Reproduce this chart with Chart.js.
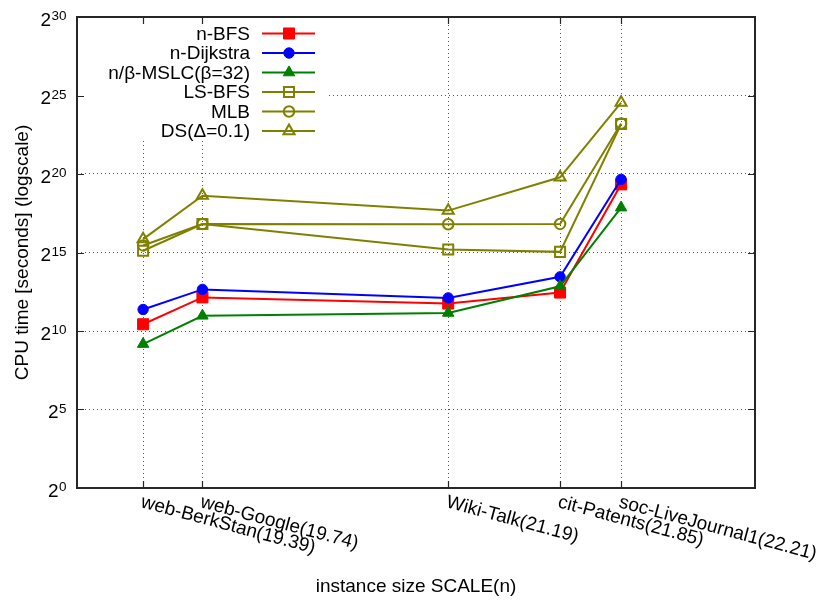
<!DOCTYPE html>
<html>
<head>
<meta charset="utf-8">
<script src="https://cdn.jsdelivr.net/npm/chart.js@4.4.0/dist/chart.umd.min.js"></script>
<style>
html,body{margin:0;padding:0;background:#fff;}
canvas{display:block;}
</style>
</head>
<body>
<canvas id="c" width="822" height="601"></canvas>
<script>
// ---- data ----
const instanceNames = ["web-BerkStan", "web-Google", "Wiki-Talk", "cit-Patents", "soc-LiveJournal1"];
const instanceScale = [19.39, 19.74, 21.19, 21.85, 22.21];
const seriesNames = ["n-BFS", "n-Dijkstra", "n/\u03B2-MSLC(\u03B2=32)", "LS-BFS", "MLB", "DS(\u0394=0.1)"];
// CPU time in seconds
const nBFS      = [1379, 4514, 3444, 5595, 663700];
const nDijkstra = [2646, 6428, 4420, 11190, 828400];
const mslc      = [576, 2006, 2273, 7384, 237900];
const lsBFS     = [35360, 114900, 37390, 33690, 9504000];
const mlb       = [44760, 114900, 114100, 115700, 9773000];
const ds        = [59050, 402900, 208500, 906500, 24560000];
const yTickExponents = [0, 5, 10, 15, 20, 25, 30];
const xTitle = "instance size SCALE(n)";
const yTitle = "CPU time [seconds] (logscale)";

const seriesValues = [nBFS, nDijkstra, mslc, lsBFS, mlb, ds];
const seriesColors = ["#ff0000", "#0000ff", "#008000", "#808000", "#808000", "#808000"];
const seriesStyles = ["rect", "circle", "triangle", "rect", "circle", "triangle"];
const seriesFilled = [true, true, true, false, false, false];
const radii = {rect: [7.8, 7.1], circle: [5.2, 5.2], triangle: [6.6, 6.4]};

const FONT = '"Liberation Sans", Arial, sans-serif';

const datasets = seriesValues.map((vals, i) => {
  const filled = seriesFilled[i];
  const st = seriesStyles[i];
  return {
    label: seriesNames[i],
    data: vals.map((v, j) => ({x: instanceScale[j], y: v})),
    borderColor: seriesColors[i],
    backgroundColor: seriesColors[i],
    borderWidth: 2,
    pointStyle: st,
    pointRadius: filled ? radii[st][0] : radii[st][1],
    pointHoverRadius: filled ? radii[st][0] : radii[st][1],
    pointBackgroundColor: filled ? seriesColors[i] : "rgba(0,0,0,0)",
    pointBorderColor: seriesColors[i],
    pointBorderWidth: filled ? 1 : 2,
    tension: 0,
    fill: false,
    order: 6 - i
  };
});

function drawMarker(ctx, style, x, y, r, color, filled) {
  ctx.save();
  ctx.beginPath();
  if (style === "rect") {
    const s = r * Math.SQRT1_2;
    ctx.rect(x - s, y - s, 2 * s, 2 * s);
  } else if (style === "circle") {
    ctx.arc(x, y, r, 0, Math.PI * 2);
  } else {
    let a = 0;
    ctx.moveTo(x + Math.sin(a) * r, y - Math.cos(a) * r);
    a += Math.PI * 2 / 3;
    ctx.lineTo(x + Math.sin(a) * r, y - Math.cos(a) * r);
    a += Math.PI * 2 / 3;
    ctx.lineTo(x + Math.sin(a) * r, y - Math.cos(a) * r);
    ctx.closePath();
  }
  ctx.strokeStyle = color;
  if (filled) {
    ctx.fillStyle = color;
    ctx.fill();
    ctx.lineWidth = 1;
  } else {
    ctx.lineWidth = 2;
  }
  ctx.stroke();
  ctx.restore();
}

const decor = {
  id: "decor",
  beforeDatasetsDraw(chart) {
    const ctx = chart.ctx;
    const a = chart.chartArea;
    // opaque key box
    ctx.save();
    ctx.fillStyle = "#ffffff";
    ctx.fillRect(a.left + 1, a.top + 1, 327 - a.left, 138 - a.top);
    ctx.restore();
  },
  afterDatasetsDraw(chart) {
    const ctx = chart.ctx;
    const a = chart.chartArea;
    const xs = chart.scales.x, ys = chart.scales.y;
    ctx.save();
    // frame
    ctx.strokeStyle = "#262626";
    ctx.lineWidth = 2;
    ctx.strokeRect(a.left, a.top, a.right - a.left, a.bottom - a.top);
    // ticks
    ctx.lineWidth = 1.2;
    const tl = 7;
    ctx.beginPath();
    yTickExponents.forEach(e => {
      const y = Math.round(ys.getPixelForValue(Math.pow(2, e))) + 0.5;
      ctx.moveTo(a.left, y); ctx.lineTo(a.left + tl, y);
      ctx.moveTo(a.right, y); ctx.lineTo(a.right - tl, y);
    });
    instanceScale.forEach(v => {
      const x = Math.round(xs.getPixelForValue(v)) + 0.5;
      ctx.moveTo(x, a.bottom); ctx.lineTo(x, a.bottom - tl);
      ctx.moveTo(x, a.top); ctx.lineTo(x, a.top + tl);
    });
    ctx.stroke();

    // y tick labels 2^e
    ctx.fillStyle = "#000";
    const R = 66.5;
    yTickExponents.forEach(e => {
      const y = ys.getPixelForValue(Math.pow(2, e));
      ctx.font = "13.5px " + FONT;
      const sup = String(e);
      const ws = ctx.measureText(sup).width;
      ctx.textAlign = "left";
      ctx.textBaseline = "alphabetic";
      ctx.fillText(sup, R - ws, y + 3);
      ctx.font = "19px " + FONT;
      ctx.textAlign = "right";
      ctx.fillText("2", R - ws - 0.5, y + 8.7);
    });

    // x tick labels rotated
    ctx.font = "19px " + FONT;
    ctx.textAlign = "left";
    ctx.textBaseline = "alphabetic";
    instanceScale.forEach((v, j) => {
      const x = xs.getPixelForValue(v);
      ctx.save();
      ctx.translate(x - 3, a.bottom + 19);
      ctx.rotate(15 * Math.PI / 180);
      ctx.fillText(instanceNames[j] + "(" + v.toFixed(2) + ")", 0, 0);
      ctx.restore();
    });

    // axis titles
    ctx.textAlign = "center";
    ctx.textBaseline = "middle";
    ctx.fillText(xTitle, (a.left + a.right) / 2, 587);
    ctx.save();
    ctx.translate(22.5, (a.top + a.bottom) / 2);
    ctx.rotate(-Math.PI / 2);
    ctx.fillText(yTitle, 0, 0);
    ctx.restore();

    // key
    const rowY0 = 33.5, rowDy = 19.5;
    seriesNames.forEach((name, i) => {
      const y = rowY0 + i * rowDy;
      ctx.fillStyle = "#000";
      ctx.font = "19px " + FONT;
      ctx.textAlign = "right";
      ctx.textBaseline = "middle";
      ctx.fillText(name, 250, y + 1);
      ctx.strokeStyle = seriesColors[i];
      ctx.lineWidth = 2;
      ctx.beginPath();
      ctx.moveTo(262, y); ctx.lineTo(315, y);
      ctx.stroke();
      const st = seriesStyles[i];
      drawMarker(ctx, st, 289, y, seriesFilled[i] ? radii[st][0] : radii[st][1], seriesColors[i], seriesFilled[i]);
    });
    ctx.restore();
  }
};

new Chart(document.getElementById("c"), {
  type: "line",
  data: {datasets},
  options: {
    responsive: false,
    animation: false,
    devicePixelRatio: 1,
    layout: {padding: {left: 77, top: 17, right: 67, bottom: 113}},
    plugins: {legend: {display: false}, tooltip: {enabled: false}},
    scales: {
      x: {
        type: "linear",
        min: 19, max: 23,
        afterBuildTicks: s => { s.ticks = instanceScale.map(v => ({value: v})); },
        afterFit: s => { s.height = 0; },
        ticks: {display: false},
        grid: {color: "#555", lineWidth: 1, drawTicks: false},
        border: {display: false, dash: [1, 3]}
      },
      y: {
        type: "logarithmic",
        min: 1, max: Math.pow(2, 30),
        afterBuildTicks: s => { s.ticks = yTickExponents.map(e => ({value: Math.pow(2, e)})); },
        afterFit: s => { s.width = 0; },
        ticks: {display: false},
        grid: {color: "#555", lineWidth: 1, drawTicks: false},
        border: {display: false, dash: [1, 3]}
      }
    }
  },
  plugins: [decor]
});
</script>
</body>
</html>
